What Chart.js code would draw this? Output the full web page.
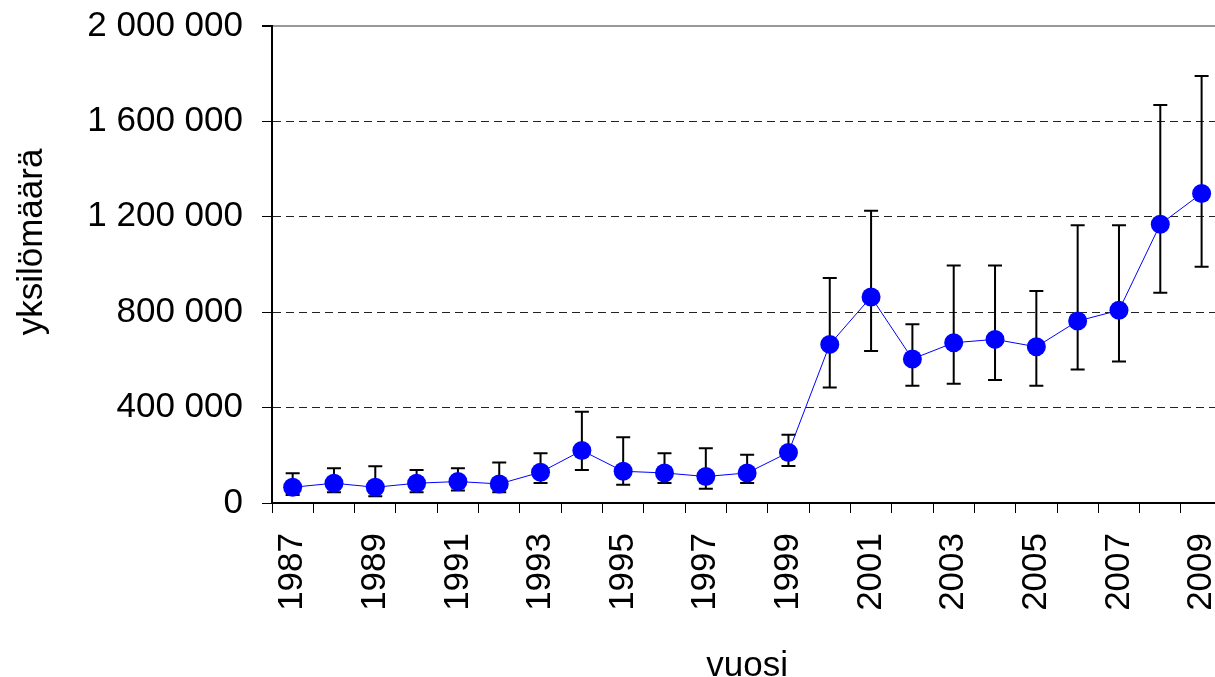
<!DOCTYPE html>
<html>
<head>
<meta charset="utf-8">
<script src="https://cdn.jsdelivr.net/npm/chart.js@4.4.1/dist/chart.umd.min.js"></script>
<style>
  html, body { margin: 0; padding: 0; background: #fff; overflow: hidden; }
  #wrap { width: 1264px; height: 677px; }
</style>
</head>
<body>
<div id="wrap"><canvas id="popChart" width="1264" height="677"></canvas></div>
<script>
// Data
const years = ["1987", "1988", "1989", "1990", "1991", "1992", "1993", "1994", "1995", "1996", "1997", "1998",
               "1999", "2000", "2001", "2002", "2003", "2004", "2005", "2006", "2007", "2008", "2009"];
const counts = [66000, 83000, 66000, 83000, 90000, 80000, 129000, 220000, 133000, 126000, 111000, 126000,
                212000, 665000, 864000, 604000, 672000, 686000, 655000, 763000, 808000, 1169000, 1298000];
const upper = [125000, 146000, 154000, 138000, 146000, 170000, 209000, 383000, 276000, 209000, 230000, 202000,
               286000, 943000, 1225000, 750000, 996000, 996000, 889000, 1165000, 1165000, 1669000, 1790000];
const lower = [34000, 45000, 28000, 45000, 52000, 45000, 84000, 138000, 76000, 84000, 60000, 84000,
               155000, 484000, 637000, 492000, 500000, 516000, 492000, 560000, 593000, 882000, 991000];
const yTicks = [0, 400000, 800000, 1200000, 1600000, 2000000];

const FONT = "'Liberation Sans', Arial, sans-serif";

// thousands with a space, like "1 600 000"
function fmt(v) {
    return String(v).replace(/\B(?=(\d{3})+(?!\d))/g, ' ');
}

// error bars behind the points
const errorBars = {
    id: 'errorBars',
    beforeDatasetsDraw(chart) {
        const ctx = chart.ctx;
        const x = chart.scales.x;
        const y = chart.scales.y;
        ctx.save();
        ctx.strokeStyle = '#000';
        ctx.lineWidth = 2;
        for (let i = 0; i < years.length; i++) {
            const px = x.getPixelForValue(i);
            const top = y.getPixelForValue(upper[i]);
            const bot = y.getPixelForValue(lower[i]);
            ctx.beginPath();
            ctx.moveTo(px, top); ctx.lineTo(px, bot);
            ctx.moveTo(px - 7, top); ctx.lineTo(px + 7, top);
            ctx.moveTo(px - 7, bot); ctx.lineTo(px + 7, bot);
            ctx.stroke();
        }
        ctx.restore();
    }
};

// y title sits a bit above the middle of the plot in the original
const yTitle = {
    id: 'yTitle',
    afterDraw(chart) {
        const ctx = chart.ctx;
        ctx.save();
        ctx.translate(32, 242);
        ctx.rotate(-Math.PI / 2);
        ctx.font = '35px ' + FONT;
        ctx.fillStyle = '#000';
        ctx.textAlign = 'center';
        ctx.textBaseline = 'middle';
        ctx.fillText('yksilömäärä', 0, 0);
        ctx.restore();
    }
};

const config = {
    type: 'line',
    data: {
        labels: years,
        datasets: [{
            data: counts,
            borderColor: '#0000ff',
            borderWidth: 1,
            pointBackgroundColor: '#0000ff',
            pointBorderColor: '#0000ff',
            pointRadius: 9.5,
            pointBorderWidth: 0,
            tension: 0
        }]
    },
    options: {
        responsive: false,
        animation: false,
        devicePixelRatio: 1,
        layout: { padding: { top: 26, right: 18, left: 0, bottom: 0 } },
        plugins: {
            legend: { display: false },
            tooltip: { enabled: false }
        },
        scales: {
            x: {
                offset: true,
                grid: {
                    offset: true,
                    drawOnChartArea: false,
                    color: '#000',
                    tickLength: 10,
                    lineWidth: 1
                },
                border: { color: '#000', width: 2 },
                ticks: {
                    autoSkip: false,
                    minRotation: 90,
                    maxRotation: 90,
                    padding: 20,
                    color: '#000',
                    font: { family: FONT, size: 35 },
                    callback: (v, i) => (i % 2 === 0 ? years[i] : '')
                },
                title: {
                    display: true,
                    text: 'vuosi',
                    color: '#000',
                    font: { family: FONT, size: 35, lineHeight: 0.6 },
                    padding: { top: 0, bottom: 0 }
                },
                afterFit(scale) { scale.height = 174; }
            },
            y: {
                min: 0,
                max: 2000000,
                afterBuildTicks(scale) { scale.ticks = yTicks.map(v => ({ value: v })); },
                grid: {
                    color: (c) => (c.tick && c.tick.value === 2000000 ? '#999' : (c.tick && c.tick.value === 0 ? '#000' : '#222')),
                    lineWidth: (c) => (c.tick && c.tick.value === 2000000 ? 2 : 1),
                    tickColor: '#000',
                    tickLength: 10,
                    tickBorderDash: []
                },
                border: {
                    color: '#000',
                    width: 2,
                    dash: (c) => (c.tick && (c.tick.value === 0 || c.tick.value === 2000000) ? [] : [8, 5])
                },
                ticks: {
                    padding: 19,
                    color: '#000',
                    font: { family: FONT, size: 35 },
                    callback: (v) => fmt(v)
                },
                afterFit(scale) {
                    scale.width = 272;
                    scale.paddingTop = 0;
                    scale.paddingBottom = 0;
                }
            }
        }
    },
    plugins: [errorBars, yTitle]
};

new Chart(document.getElementById('popChart').getContext('2d'), config);
</script>
</body>
</html>
